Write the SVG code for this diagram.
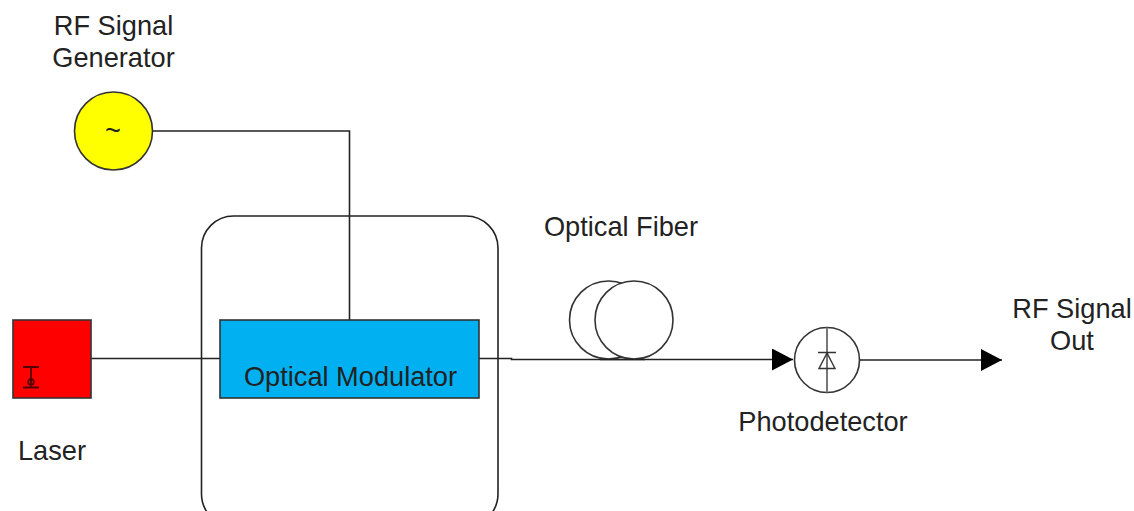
<svg xmlns="http://www.w3.org/2000/svg" width="1134" height="511" viewBox="0 0 1134 511">
<style>
.l{fill:none;stroke:#222;stroke-width:1.6}
.s{stroke:#333;stroke-width:1.6}
.t{font-family:"Liberation Sans",Arial,sans-serif;font-size:27.200px;fill:#222;text-anchor:middle}
</style>
<defs>
<marker id="a" markerUnits="userSpaceOnUse" markerWidth="22" markerHeight="22" refX="21" refY="11" orient="auto"><path d="M0 0L21 11L0 22Z" fill="#000"/></marker>
</defs>
<rect width="1134" height="511" fill="#fff"/>
<g id="modulator-housing"><rect x="201.500" y="216" width="296.500" height="310" rx="32" class="l"/></g>
<g id="connectors">
<path class="l" d="M153 131H349.500V320"/>
<path class="l" d="M91 358.500H220"/>
<path class="l" d="M479 358.500H511.500V359.500H793" marker-end="url(#a)"/>
<path class="l" d="M860 360H1002" marker-end="url(#a)"/>
</g>
<g id="rf-generator">
<circle cx="113.500" cy="131" r="39" fill="#ff0" stroke="#333" stroke-width="1.600"/>
<text class="t" x="113" y="140">~</text>
<text class="t" x="113.500" y="35">RF Signal</text>
<text class="t" x="113.500" y="67">Generator</text>
</g>
<g id="laser">
<rect x="13" y="320" width="78" height="78" fill="#f00" stroke="#333" stroke-width="1.600"/>
<path d="M23 367H39M31 367V387M23 387.500H39" fill="none" stroke="#500" stroke-width="1.800"/>
<circle cx="31" cy="382" r="2.800" fill="none" stroke="#500" stroke-width="1.800"/>
<text class="t" x="52" y="460">Laser</text>
</g>
<g id="optical-modulator">
<rect x="220" y="320" width="259" height="78" fill="#00b0f0" stroke="#333" stroke-width="1.600"/>
<text class="t" x="350.500" y="386">Optical Modulator</text>
</g>
<g id="optical-fiber">
<circle cx="608.500" cy="320" r="39" fill="none" class="s"/>
<circle cx="634" cy="320" r="39" fill="#fff" class="s"/>
<path class="l" d="M600 359.500H645"/>
<text class="t" x="621" y="236">Optical Fiber</text>
</g>
<g id="photodetector">
<circle cx="827" cy="360" r="32.500" fill="#fff" class="s"/>
<path d="M827 327.500V392.500" stroke="#777" stroke-width="2"/>
<path d="M818 352.500H836M827 353L819 368.500H835Z" fill="none" stroke="#333" stroke-width="1.400"/>
<text class="t" x="823" y="431">Photodetector</text>
</g>
<g id="rf-out">
<text class="t" x="1072" y="318">RF Signal</text>
<text class="t" x="1072" y="350">Out</text>
</g>
</svg>
